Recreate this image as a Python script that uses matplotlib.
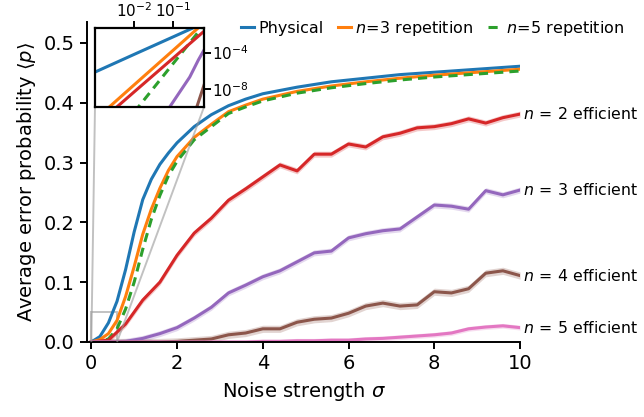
import matplotlib
matplotlib.use("Agg")
import matplotlib.pyplot as plt
import numpy as np
from mpl_toolkits.axes_grid1.inset_locator import mark_inset

plt.rcParams['font.family'] = ['DejaVu Sans']
plt.rcParams['mathtext.fontset'] = 'dejavusans'
plt.rcParams['axes.linewidth'] = 1.4
plt.rcParams['xtick.major.width'] = 1.4
plt.rcParams['ytick.major.width'] = 1.4
plt.rcParams['xtick.major.size'] = 5
plt.rcParams['ytick.major.size'] = 5

# finer grid for the analytic curves
sigma_fine = [0, 0.2, 0.4, 0.6, 0.8, 1.0, 1.2, 1.4, 1.6, 1.8, 2.0, 2.4, 2.8,
              3.2, 3.6, 4.0, 4.8, 5.6, 6.4, 7.2, 8.0, 8.8, 9.6, 10]
physical = [0.0, 0.009, 0.032, 0.068, 0.121, 0.184, 0.238, 0.272, 0.297, 0.316,
            0.333, 0.36, 0.38, 0.395, 0.406, 0.415, 0.426, 0.435, 0.441, 0.447,
            0.451, 0.455, 0.459, 0.461]
rep3 = [0.0, 0.004, 0.014, 0.036, 0.076, 0.126, 0.18, 0.222, 0.257, 0.287,
        0.31, 0.342, 0.364, 0.385, 0.396, 0.406, 0.419, 0.428, 0.435, 0.441,
        0.446, 0.45, 0.454, 0.456]
rep5 = [0.0, 0.001, 0.005, 0.022, 0.055, 0.1, 0.155, 0.205, 0.245, 0.278,
        0.302, 0.338, 0.36, 0.382, 0.393, 0.403, 0.416, 0.425, 0.432, 0.438,
        0.443, 0.447, 0.451, 0.453]

# sampled (Monte Carlo) curves
sigma = np.linspace(0, 10, 26)
eff2 = [0.0, 0.003, 0.03, 0.07, 0.10, 0.145, 0.182, 0.207, 0.237, 0.256,
        0.276, 0.296, 0.286, 0.314, 0.314, 0.331, 0.326, 0.343, 0.349, 0.358,
        0.36, 0.365, 0.373, 0.366, 0.375, 0.381]
eff3 = [0.0, 0.0, 0.001, 0.006, 0.014, 0.024, 0.04, 0.058, 0.082, 0.095,
        0.109, 0.119, 0.134, 0.149, 0.152, 0.174, 0.181, 0.186, 0.189, 0.209,
        0.229, 0.227, 0.222, 0.253, 0.246, 0.254]
eff4 = [0.0, 0.0, 0.0, 0.0, 0.0, 0.001, 0.003, 0.005, 0.012, 0.015,
        0.022, 0.022, 0.033, 0.038, 0.040, 0.048, 0.060, 0.065, 0.060, 0.062,
        0.084, 0.082, 0.089, 0.115, 0.119, 0.111]
eff5 = [0.0, 0.0, 0.0, 0.0, 0.0, 0.0, 0.0, 0.0, 0.0, 0.0,
        0.001, 0.001, 0.002, 0.002, 0.003, 0.003, 0.005, 0.006, 0.008, 0.010,
        0.012, 0.015, 0.022, 0.025, 0.027, 0.024]
eff_err = [0.005, 0.005, 0.006, 0.004]

# low-noise behaviour on log axes
in_phys_s, in_phys_p = [1e-3, 1e-2, 1e-1, 0.6], [7e-7, 6.3e-5, 5.5e-3, 0.18]
in_rep3_s, in_rep3_p = [1e-3, 1e-2, 1e-1, 0.6], [4e-12, 2.8e-8, 1.9e-4, 0.19]
in_rep5_s, in_rep5_p = [1e-2, 1e-1, 0.6], [2.7e-11, 6.8e-6, 0.11]
in_eff2_s, in_eff2_p = [1e-3, 1e-2, 1e-1, 0.6], [8e-13, 4.7e-9, 2.6e-5, 0.022]
in_eff3_s, in_eff3_p = [0.08, 0.26, 0.43, 0.6], [1e-10, 2e-7, 1.5e-5, 1.9e-4]
in_eff4_s, in_eff4_p = [0.35, 0.6], [2.2e-11, 2.6e-8]

eff_names = [r'$n\,=\,2$ efficient', r'$n\,=\,3$ efficient',
             r'$n\,=\,4$ efficient', r'$n\,=\,5$ efficient']

fig = plt.figure(figsize=(6.44, 4.17), dpi=100)
ax = fig.add_axes([0.1351, 0.1799, 0.6724, 0.7674])

lw = 2.2
ax.plot(sigma_fine, physical, color='C0', lw=lw, label='Physical')
ax.plot(sigma_fine, rep3, color='C1', lw=lw, label=r'$n\!=\!3$ repetition')
ax.plot(sigma_fine, rep5, color='C2', lw=lw, ls=(0, (3, 2)), label=r'$n\!=\!5$ repetition')

for vals, err, col, name in zip([eff2, eff3, eff4, eff5], eff_err,
                                ['C3', 'C4', 'C5', 'C6'], eff_names):
    v = np.array(vals)
    ax.fill_between(sigma, v - err, v + err, color=col, alpha=0.25, lw=0)
    ax.plot(sigma, v, color=col, lw=lw)
    ax.annotate(name, xy=(sigma[-1], v[-1]), xytext=(2, 0), textcoords='offset points',
                va='center', ha='left', fontsize=11.3, annotation_clip=False)

ax.set_xlim(-0.1, 10)
ax.set_ylim(0, 0.535)
ax.set_xticks([0, 2, 4, 6, 8, 10])
ax.set_yticks([0.0, 0.1, 0.2, 0.3, 0.4, 0.5])
ax.tick_params(labelsize=14, pad=4)
ax.spines['top'].set_visible(False)
ax.spines['right'].set_visible(False)
ax.set_xlabel(r'Noise strength $\sigma$', fontsize=14, labelpad=5)
ax.set_ylabel(r'Average error probability $\langle p\rangle$', fontsize=14)

ax.legend(loc='center left', bbox_to_anchor=(0.355, 0.981), ncol=3, frameon=False,
          fontsize=11.5, handlelength=0.8, handletextpad=0.3, columnspacing=0.9,
          borderaxespad=0, borderpad=0)

# log-log zoom on the low-noise corner
axins = fig.add_axes([0.1475, 0.7434, 0.1693, 0.1894])
axins.plot(in_phys_s, in_phys_p, color='C0', lw=lw)
axins.plot(in_rep3_s, in_rep3_p, color='C1', lw=lw)
axins.plot(in_rep5_s, in_rep5_p, color='C2', lw=lw, ls=(0, (3, 2)))
axins.plot(in_eff2_s, in_eff2_p, color='C3', lw=lw)
axins.plot(in_eff3_s, in_eff3_p, color='C4', lw=lw)
axins.plot(in_eff4_s, in_eff4_p, color='C5', lw=lw)
axins.set_xscale('log')
axins.set_yscale('log')
axins.set_xlim(1e-3, 0.6)
axins.set_ylim(1e-10, 0.05)
axins.set_xticks([1e-2, 1e-1])
axins.set_yticks([1e-8, 1e-4])
axins.minorticks_off()
axins.xaxis.tick_top()
axins.yaxis.tick_right()
axins.tick_params(labelsize=11, pad=1)
for s in axins.spines.values():
    s.set_linewidth(1.6)

mark_inset(ax, axins, loc1=3, loc2=4, fc='none', ec='0.6', lw=1.4, alpha=0.6)

fig.savefig('out.png', dpi=100)
